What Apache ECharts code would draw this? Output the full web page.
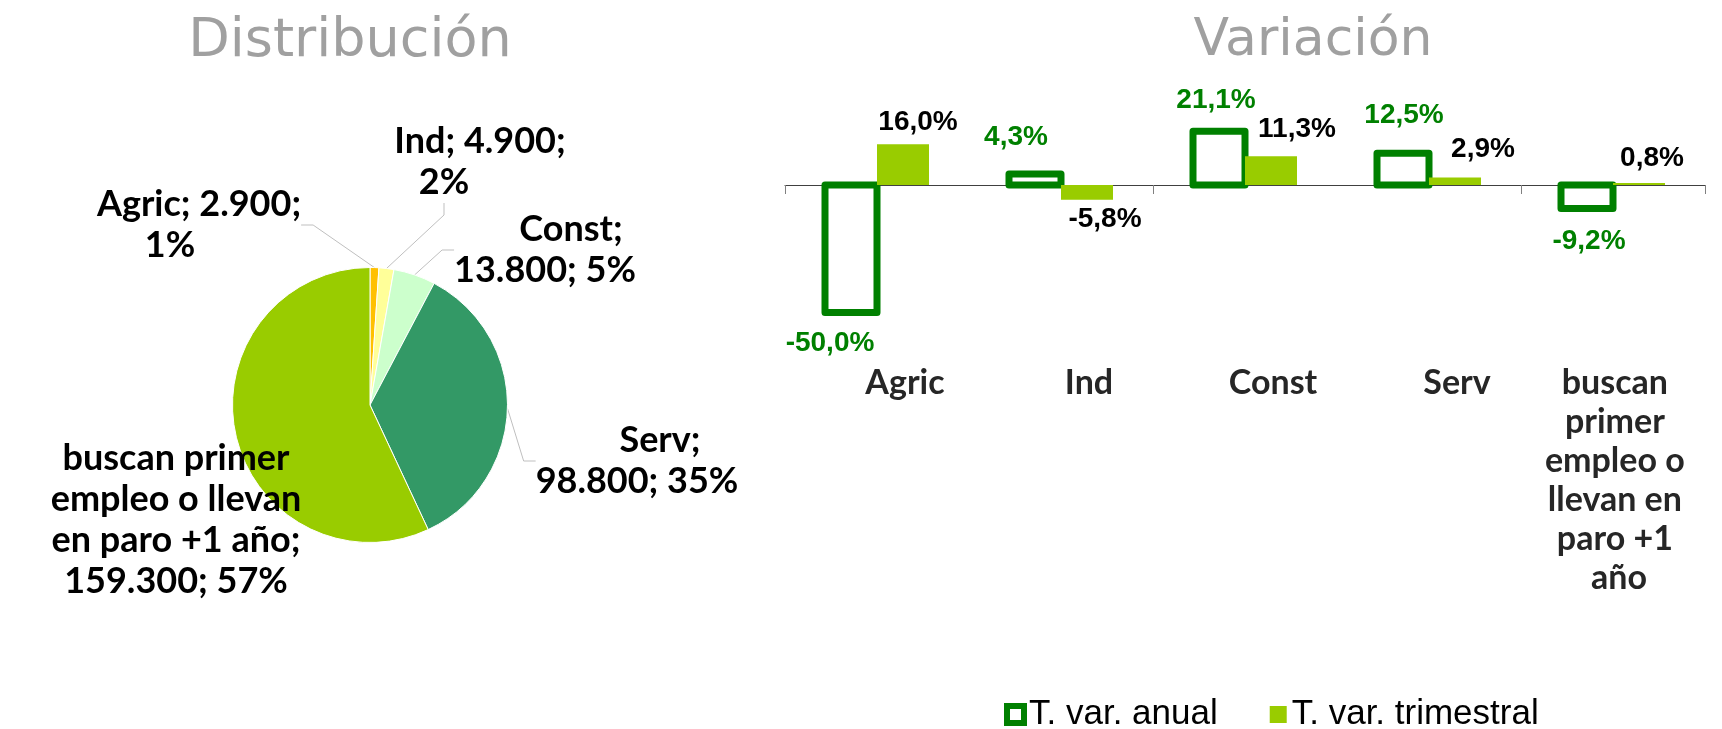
<!DOCTYPE html>
<html>
<head>
<meta charset="utf-8">
<script src="https://cdn.jsdelivr.net/npm/echarts@6/dist/echarts.min.js"></script>
<style>
html, body { margin: 0; padding: 0; background: #fff; }
#main { width: 1722px; height: 729px; }
</style>
</head>
<body>
<div id="main"></div>
<script>
var myChart = echarts.init(document.getElementById('main'));

// Distribución (parados por sector)
var sectores = ['Agric', 'Ind', 'Const', 'Serv', 'buscan primer empleo o llevan en paro +1 año'];
var parados = [2900, 4900, 13800, 98800, 159300];
var coloresPie = ['#FFC000', '#FFFF99', '#CCFFCC', '#339966', '#99CC00'];

// Variación (%)
var varAnual = [-50.0, 4.3, 21.1, 12.5, -9.2];
var varTrimestral = [16.0, -5.8, 11.3, 2.9, 0.8];
var nombresSerie = ['T. var. anual', 'T. var. trimestral'];

// colocacion de etiquetas (solo estilo)
var posEtiquetas = [[170, 225], [444, 162], [545, 250], [637, 461], [176, 520]];
var sangria = [58, 72, 52, 46];           // desplaza la 1a linea como en excel
var dxAnual = [-21, -19, -3, 1, 2], gapAnual = [27, 33, 27, 34, 29];
var dxTrim = [15, 18, 26, 28, 13], gapTrim = [22, 19, 27, 28, 25];
var anchoBarra = 52;

function miles(n) {
  return String(n).replace(/\B(?=(\d{3})+(?!\d))/g, '.');
}
function pct(v) {
  return v.toFixed(1).replace('.', ',') + '%';
}

function etiquetaPie(p) {
  var v = miles(p.value);
  var d = Math.round(p.percent) + '%';
  var k = '{l' + p.dataIndex + '|';
  if (p.dataIndex < 2) return k + p.name + '; ' + v + ';}\n' + d;
  if (p.dataIndex < 4) return k + p.name + ';}\n' + v + '; ' + d;
  return p.name.replace(' empleo', '\nempleo').replace(' en paro', '\nen paro') + ';\n' + v + '; ' + d;
}

var fuentePie = { fontFamily: 'Lato', fontWeight: 'bold', fontSize: 36, lineHeight: 41, color: '#000' };
var richPie = {};
sangria.forEach(function (s, i) {
  richPie['l' + i] = Object.assign({ padding: [0, 0, 0, s] }, fuentePie);
});

var pieData = sectores.map(function (s, i) {
  var item = { name: s, value: parados[i], itemStyle: { color: coloresPie[i] } };
  if (i == 4) {
    // sin linea guia; 'inside' para que el pie no recorte el texto
    item.label = { position: 'inside' };
    item.labelLine = { show: false };
  }
  return item;
});

var catData = sectores.map(function (s, i) {
  return { value: s, textStyle: { padding: i < 4 ? [0, 0, 0, 56] : [0, 0, 0, 12] } };
});

// barras de la variacion: rectangulo con el trazo centrado en el borde (como excel)
function barra(lado, estilo, colorTxt, dx, gap) {
  return function (params, api) {
    var i = api.value(0), v = api.value(1);
    var p0 = api.coord([i, 0]);
    var p1 = api.coord([i, v]);
    var top = Math.min(p0[1], p1[1]);
    return {
      type: 'rect',
      shape: { x: lado < 0 ? p0[0] - anchoBarra : p0[0], y: top, width: anchoBarra, height: Math.abs(p1[1] - p0[1]) },
      style: estilo,
      textContent: {
        style: { text: pct(v), fill: colorTxt, fontFamily: 'Liberation Sans', fontWeight: 'bold', fontSize: 28 }
      },
      textConfig: {
        position: v >= 0 ? 'top' : 'bottom',
        distance: gap[i] - 14,
        offset: [dx[i], 0]
      }
    };
  };
}

option = {
  animation: false,
  title: [{
    text: 'Distribución',
    left: 350, top: 15, padding: 0,
    textAlign: 'center',
    textStyle: { fontFamily: 'DejaVu Sans', fontWeight: 'normal', fontSize: 54, color: '#A0A0A0' }
  }, {
    text: 'Variación',
    left: 1313, top: 15, padding: 0,
    textAlign: 'center',
    textStyle: { fontFamily: 'DejaVu Sans', fontWeight: 'normal', fontSize: 52, color: '#A0A0A0' }
  }],
  legend: {
    left: 1004, top: 697, padding: 0,
    icon: 'rect',
    itemWidth: 17, itemHeight: 17, itemGap: 52,
    textStyle: { fontFamily: 'Liberation Sans', fontSize: 35, color: '#000' },
    data: [
      { name: nombresSerie[0], itemStyle: { color: '#fff', borderColor: '#008000', borderWidth: 6 } },
      { name: nombresSerie[1], itemStyle: { color: '#99CC00' } }
    ]
  },
  grid: { left: 785, right: 17, top: 121.25, bottom: 391 },
  xAxis: [{
    type: 'category',
    data: sectores,
    axisLine: { onZero: true, lineStyle: { color: '#404040', width: 1 } },
    axisTick: { show: true, length: 9, lineStyle: { color: '#808080' } },
    axisLabel: { show: false }
  }, {
    type: 'category',
    position: 'bottom',
    data: catData,
    axisLine: { show: false, onZero: false },
    axisTick: { show: false },
    axisLabel: {
      margin: 26, interval: 0,
      fontFamily: 'Lato', fontWeight: 'bold', fontSize: 34, lineHeight: 39, color: '#262626',
      width: 150, overflow: 'break', align: 'center'
    }
  }],
  yAxis: {
    type: 'value', min: -60, max: 25, interval: 5, show: false,
    splitLine: { show: false }
  },
  series: [{
    type: 'pie',
    center: [370, 405],
    radius: 137.5,
    startAngle: 90,
    data: pieData,
    itemStyle: { borderColor: '#fff', borderWidth: 1 },
    label: Object.assign({
      show: true,
      formatter: etiquetaPie,
      align: 'center',
      rich: richPie
    }, fuentePie),
    labelLine: { show: true, length: 12, length2: 12, lineStyle: { color: '#BFBFBF', width: 1 } },
    labelLayout: function (p) {
      var q = posEtiquetas[p.dataIndex];
      return { x: q[0], y: q[1], align: 'center', verticalAlign: 'middle' };
    }
  }, {
    name: nombresSerie[0],
    type: 'custom',
    xAxisIndex: 0,
    data: varAnual.map(function (v, i) { return [i, v]; }),
    encode: { x: 0, y: 1 },
    itemStyle: { color: '#fff', borderColor: '#008000', borderWidth: 6 },
    renderItem: barra(-1, { fill: '#fff', stroke: '#008000', lineWidth: 7, lineJoin: 'round' }, '#008000', dxAnual, gapAnual)
  }, {
    name: nombresSerie[1],
    type: 'custom',
    xAxisIndex: 0,
    data: varTrimestral.map(function (v, i) { return [i, v]; }),
    encode: { x: 0, y: 1 },
    itemStyle: { color: '#99CC00' },
    renderItem: barra(1, { fill: '#99CC00' }, '#000', dxTrim, gapTrim)
  }]
};

myChart.setOption(option);
</script>
</body>
</html>
